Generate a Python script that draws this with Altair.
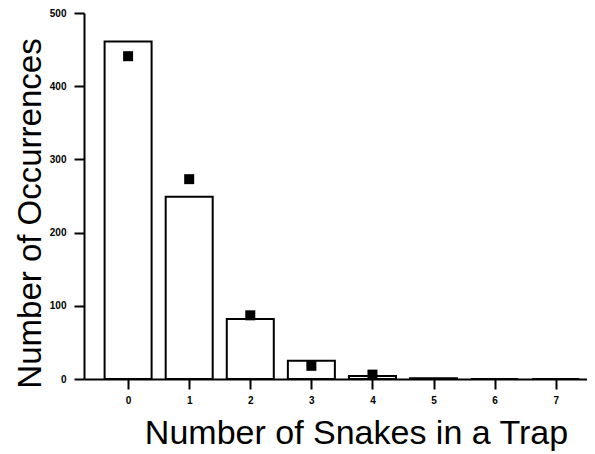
import altair as alt
import pandas as pd

snakes = [0, 1, 2, 3, 4, 5, 6, 7]
observed = [461, 249, 82, 25, 4, 1, 0, 0]
expected_x = [0, 1, 2, 3, 4]
expected = [441, 273, 87, 18, 6]

bars_df = pd.DataFrame({"snakes": snakes, "count": observed})
pts_df = pd.DataFrame({"snakes": expected_x, "count": expected})

x_scale = alt.Scale(domain=[-0.64, 7.43], nice=False, zero=False)
y_scale = alt.Scale(domain=[0, 500], nice=False)

x_axis = alt.Axis(
    title="Number of Snakes in a Trap",
    values=snakes, format="d", grid=False,
    tickSize=10, tickWidth=2, tickColor="black",
    domainWidth=2, domainColor="black",
    labelFont="Liberation Sans", labelFontSize=10, labelFontWeight="bold",
    labelColor="black", labelPadding=6,
    titleFont="Liberation Sans", titleFontSize=34, titleFontWeight="normal",
    titleColor="black", titleX=272, titleY=64, titleBaseline="alphabetic",
    titleAnchor="middle", titleAlign="center",
)
y_axis = alt.Axis(
    title="Number of Occurrences",
    values=[0, 100, 200, 300, 400, 500], format="d", grid=False,
    tickSize=10, tickWidth=2, tickColor="black",
    domainWidth=2, domainColor="black",
    labelFont="Liberation Sans", labelFontSize=10, labelFontWeight="bold",
    labelColor="black", labelPadding=8,
    titleFont="Liberation Sans", titleFontSize=33, titleFontWeight="normal",
    titleColor="black", titleX=-44, titleY=200, titleAngle=-90,
    titleBaseline="alphabetic", titleAnchor="middle", titleAlign="center",
)

bars = alt.Chart(bars_df).mark_bar(
    width=47, fill="white", stroke="black", strokeWidth=2
).encode(
    x=alt.X("snakes:Q", scale=x_scale, axis=x_axis),
    y=alt.Y("count:Q", scale=y_scale, axis=y_axis),
)

pts = alt.Chart(pts_df).mark_square(
    size=100, color="black", opacity=1, filled=True
).encode(
    x=alt.X("snakes:Q", scale=x_scale),
    y=alt.Y("count:Q", scale=y_scale),
)

chart = (bars + pts).properties(
    width=503, height=366,
    autosize=alt.AutoSizeParams(type="none"),
    padding={"left": 76, "top": 5, "right": 0, "bottom": 75},
    background="white",
).configure_view(stroke=None)

chart.save("out.html", embed_options={"renderer": "svg", "actions": False})
